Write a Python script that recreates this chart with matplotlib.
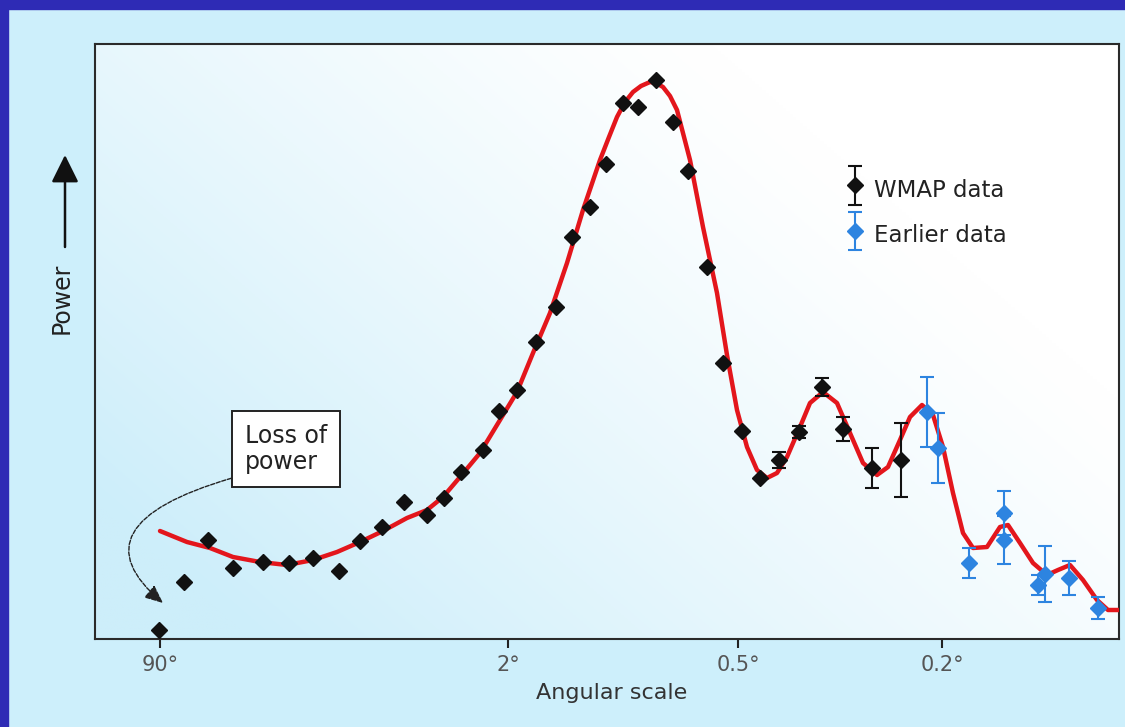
import matplotlib.pyplot as plt
import numpy as np
from matplotlib.container import ErrorbarContainer
from matplotlib.legend_handler import HandlerErrorbar
from matplotlib.patches import Rectangle, FancyArrowPatch

plt.rcParams['font.family'] = ['DejaVu Sans']

# horizontal position along the (schematic) angular scale axis, power in arbitrary units
TICK_POS = [65, 413, 643, 847]
TICK_LABELS = ['90°', '2°', '0.5°', '0.2°']

wmap_pos = [64, 89, 113, 138, 168, 194, 218, 244, 265, 287, 309, 332, 349, 366, 388,
            404, 422, 441, 461, 477, 495, 511, 528, 543, 561, 578, 593, 612, 628, 647,
            665, 684, 704, 727, 748, 777, 806]
wmap_power = [9, 57, 99, 71, 77, 76, 81, 68, 98, 112, 137, 124, 141, 167, 189,
              228, 249, 297, 332, 402, 432, 475, 536, 532, 559, 517, 468, 372, 276, 208,
              161, 179, 207, 252, 210, 171, 179]
wmap_err = [0] * 31 + [8, 6, 9, 12, 20, 37]

earlier_pos = [832, 843, 874, 909, 909, 943, 950, 974, 1003]
earlier_power = [227, 191, 76, 126, 99, 54, 65, 61, 31]
earlier_err = [35, 35, 15, 22, 24, 10, 28, 17, 11]

model_pos = [65, 92, 115, 138, 165, 192, 218, 242, 265, 288, 312, 332, 348, 365, 385,
             405, 422, 438, 455, 472, 488, 505, 514, 522, 530, 538, 546, 555, 561, 568,
             575, 582, 595, 608, 622, 632, 642, 652, 662, 672, 682, 692, 705, 715, 728,
             742, 755, 768, 782, 793, 805, 815, 827, 838, 848, 858, 868, 878, 892, 905,
             913, 925, 938, 952, 963, 975, 988, 1002, 1013, 1024]
model_power = [108, 97, 91, 82, 77, 74, 79, 87, 97, 108, 121, 129, 142, 162, 186,
               219, 247, 286, 326, 376, 429, 479, 502, 522, 537, 547, 553, 557, 556, 552,
               543, 529, 479, 412, 346, 284, 229, 192, 169, 161, 166, 182, 212, 236, 247,
               236, 206, 176, 164, 172, 199, 222, 234, 224, 192, 146, 106, 91, 92, 112,
               114, 96, 76, 64, 69, 74, 59, 39, 29, 29]

BLACK = '#111111'
BLUE = '#2D84E0'
RED = '#E3161C'

fig = plt.figure(figsize=(11.25, 7.27), dpi=100, facecolor='#CDEFFB')
ax = fig.add_axes([95 / 1125, 88 / 727, 1024 / 1125, 595 / 727])

# soft white-to-cyan wash behind the data
gx, gy = np.meshgrid(np.linspace(0, 1, 300), np.linspace(0, 1, 200))
t = np.clip((0.8 - gx) * 0.9 + (0.7 - gy) * 0.6, 0, 1) ** 1.2
c0 = np.array([1.0, 1.0, 1.0])
c1 = np.array([0xCD, 0xEE, 0xFA]) / 255
grad = c0 * (1 - t[..., None]) + c1 * t[..., None]
ax.imshow(grad, extent=[0, 1024, 0, 595], origin='lower', aspect='auto', zorder=0)

ax.plot(model_pos, model_power, color=RED, lw=3.2, zorder=3,
        solid_capstyle='round', solid_joinstyle='round')

eb_w = ax.errorbar(wmap_pos, wmap_power, yerr=wmap_err, fmt='D', ms=8, color=BLACK,
                   ecolor=BLACK, elinewidth=1.5, capsize=5, capthick=1.5, zorder=4,
                   label='WMAP data')
eb_e = ax.errorbar(earlier_pos, earlier_power, yerr=earlier_err, fmt='D', ms=8, color=BLUE,
                   ecolor=BLUE, elinewidth=1.5, capsize=5, capthick=1.5, zorder=5,
                   label='Earlier data')

ax.set_xlim(0, 1024)
ax.set_ylim(0, 595)
ax.set_xticks(TICK_POS)
ax.set_xticklabels(TICK_LABELS)
ax.set_yticks([])
ax.tick_params(axis='x', direction='out', length=6.5, width=1.5, color='#222222',
               labelsize=15, labelcolor='#555555', pad=5)
for sp in ax.spines.values():
    sp.set_linewidth(1.5)
    sp.set_color('#2a2a2a')

ax.set_xlabel('Angular scale', fontsize=16, color='#333333')
ax.xaxis.set_label_coords(0.505, -0.09)
ax.xaxis.label.set_va('center')

leg = ax.legend(handles=[eb_w, eb_e], loc='upper left', bbox_to_anchor=(0.733, 0.782),
                frameon=False, fontsize=16.5, numpoints=1, handlelength=0.8,
                handleheight=1.7, handletextpad=0.45, labelspacing=0.65,
                borderpad=0, borderaxespad=0,
                handler_map={ErrorbarContainer: HandlerErrorbar(yerr_size=0.85)})
for txt in leg.get_texts():
    txt.set_color('#222222')

ax.annotate('Loss of\npower', xy=(68, 36), xytext=(150, 190), fontsize=17,
            color='#222222', ha='left', va='center', linespacing=1.15,
            bbox=dict(boxstyle='square,pad=0.55', fc='white', ec='#222222', lw=1.4),
            arrowprops=dict(arrowstyle='-|>,head_length=0.8,head_width=0.35',
                            connectionstyle='angle3,angleA=15,angleB=-40',
                            color='#222222', lw=1.0, ls=(0, (3, 1.2)), relpos=(0, 0),
                            shrinkA=0, shrinkB=0, mutation_scale=14),
            zorder=6)

# "Power" with the upward arrow, outside the axes
fig.text(62 / 1125, 1 - 298 / 727, 'Power', rotation=90, ha='center', va='center',
         fontsize=17, color='#222222')
fig.add_artist(FancyArrowPatch(
    (65 / 1125, 1 - 247 / 727), (65 / 1125, 1 - 155 / 727), transform=fig.transFigure,
    arrowstyle='-|>,head_length=1.05,head_width=0.52', mutation_scale=16,
    color='#111111', lw=1.8, shrinkA=0, shrinkB=0))

# dark blue frame strips on top and left
fig.add_artist(Rectangle((0, 1 - 9 / 727), 1, 9 / 727, transform=fig.transFigure,
                         color='#2E2BB5', zorder=10))
fig.add_artist(Rectangle((0, 0), 8 / 1125, 1, transform=fig.transFigure,
                         color='#2E2BB5', zorder=10))

fig.savefig('out.png', dpi=100, facecolor=fig.get_facecolor())
